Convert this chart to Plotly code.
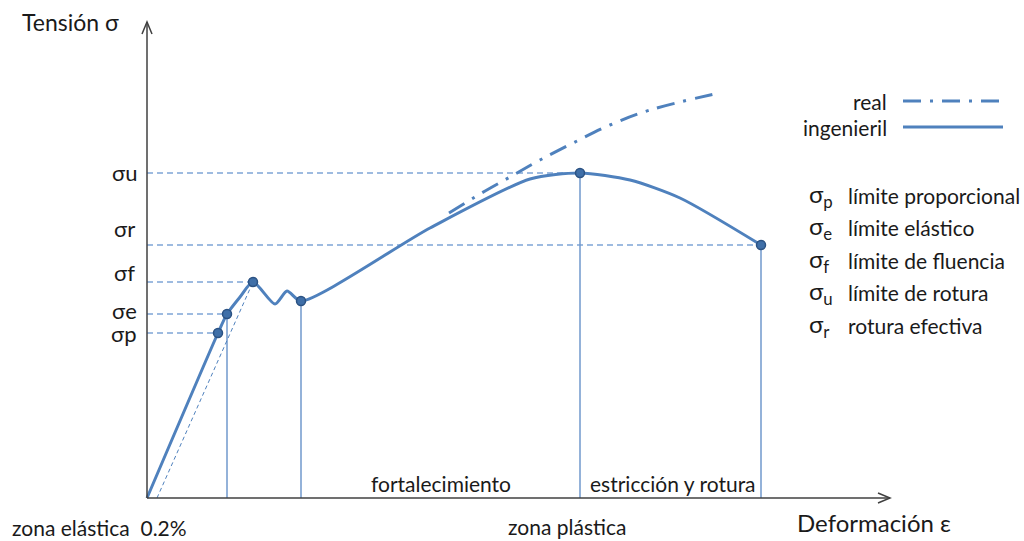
import plotly.graph_objects as go

# Engineering stress-strain curve (strain, stress) in diagram units
eng_strain = [0, 71, 80, 93, 106, 128, 140, 154, 283, 383, 433, 483, 533, 614]
eng_stress = [0, 165, 184, 201, 216, 194, 207, 197, 270, 319, 325, 318, 300, 253]

# True (real) stress curve, diverging after the hardening starts
real_strain = [302, 333, 363, 393, 426, 463, 503, 572]
real_stress = [285, 304, 321, 338, 355, 373, 388, 405]

# Characteristic points: p, e, f, lower yield, u, r
pt_names = ["σp", "σe", "σf", "", "σu", "σr"]
pt_strain = [71, 80, 106, 154, 433, 614]
pt_stress = [165, 184, 216, 197, 325, 253]

# 0.2 % offset strain
offset_strain = 10

# Legend of the limits
limit_symbols = ["p", "e", "f", "u", "r"]
limit_texts = ["límite proporcional", "límite elástico", "límite de fluencia",
               "límite de rotura", "rotura efectiva"]

BLUE = "#4F81BD"
DASH_BLUE = "#7FA5D6"
THIN_BLUE = "#7098CD"
AXIS = "#404040"
TXT = "#1a1a1a"
FONT = "Lato"

fig = go.Figure()

# horizontal dashed guide lines from the stress axis to each point
for name, sx, sy in zip(pt_names, pt_strain, pt_stress):
    if not name:
        continue
    fig.add_trace(go.Scatter(x=[0, sx], y=[sy, sy], mode="lines",
                             line=dict(color=DASH_BLUE, width=1.5, dash="6px,4px"),
                             hoverinfo="skip", showlegend=False))

# vertical guide lines down to the strain axis
for i in [1, 3, 4, 5]:
    fig.add_trace(go.Scatter(x=[pt_strain[i], pt_strain[i]], y=[0, pt_stress[i]], mode="lines",
                             line=dict(color=THIN_BLUE, width=1.5),
                             hoverinfo="skip", showlegend=False))

# 0.2 % offset line parallel to the elastic slope
fig.add_trace(go.Scatter(x=[offset_strain, pt_strain[2]], y=[0, pt_stress[2]], mode="lines",
                         line=dict(color=BLUE, width=1, dash="4px,3px"),
                         hoverinfo="skip", showlegend=False))

# real curve
fig.add_trace(go.Scatter(x=real_strain, y=real_stress, mode="lines",
                         line=dict(color=BLUE, width=3, dash="18px,9px,3px,9px", shape="spline"),
                         hoverinfo="skip", showlegend=False))

# engineering curve
fig.add_trace(go.Scatter(x=eng_strain, y=eng_stress, mode="lines",
                         line=dict(color=BLUE, width=3, shape="spline", smoothing=0.7),
                         hoverinfo="skip", showlegend=False))

# characteristic points
fig.add_trace(go.Scatter(x=pt_strain, y=pt_stress, mode="markers",
                         marker=dict(size=9, color="#3F6FA8", line=dict(color="#2B5283", width=1.5)),
                         hoverinfo="skip", showlegend=False))

shapes = []
# axes with open arrowheads
shapes.append(dict(type="line", x0=0, y0=0, x1=0, y1=476, line=dict(color=AXIS, width=1.5)))
shapes.append(dict(type="path", path="M -5 464 L 0 476 L 5 464", line=dict(color=AXIS, width=1.5)))
shapes.append(dict(type="line", x0=0, y0=0, x1=743, y1=0, line=dict(color=AXIS, width=1.5)))
shapes.append(dict(type="path", path="M 731 5 L 743 0 L 731 -5", line=dict(color=AXIS, width=1.5)))
# legend samples
shapes.append(dict(type="line", x0=756, y0=397, x1=856, y1=397,
                   line=dict(color=BLUE, width=3, dash="18px,9px,3px,9px")))
shapes.append(dict(type="line", x0=756, y0=371, x1=856, y1=371,
                   line=dict(color=BLUE, width=3)))

ann = []


def text(x, y, s, size=21, xanchor="left"):
    ann.append(dict(x=x, y=y, text=s, showarrow=False, xanchor=xanchor, yanchor="middle",
                    font=dict(family=FONT, size=size, color=TXT)))


# axis titles
text(-127, 476, "Tensión σ", size=23)
text(648, -24, "Deformación ε", size=24)

# stress level labels
label_y = {"σu": 326, "σr": 270, "σf": 226, "σe": 188, "σp": 165}
for name in pt_names:
    if name:
        text(-23, label_y[name], name, size=22, xanchor="center")

# zone labels
text(-137, -29, "zona elástica  0.2%", size=21)
text(420, -28, "zona plástica", size=21, xanchor="center")
text(294, 15, "fortalecimiento", size=21, xanchor="center")
text(526, 15, "estricción y rotura", size=21, xanchor="center")

# legend labels
text(742, 397, "real", size=21, xanchor="right")
text(742, 371, "ingenieril", size=21, xanchor="right")

# list of limits
for k, (sym, desc) in enumerate(zip(limit_symbols, limit_texts)):
    yy = 303 - k * 32.5
    text(660, yy, f"σ<sub>{sym}</sub>", size=24)
    text(699, yy, desc, size=21)

fig.update_layout(
    width=1024, height=541,
    margin=dict(l=0, r=0, t=0, b=0),
    paper_bgcolor="white", plot_bgcolor="white",
    xaxis=dict(range=[-147, 877], visible=False, fixedrange=True),
    yaxis=dict(range=[-43, 498], visible=False, fixedrange=True),
    shapes=shapes, annotations=ann,
)

fig.write_html("out.html")
